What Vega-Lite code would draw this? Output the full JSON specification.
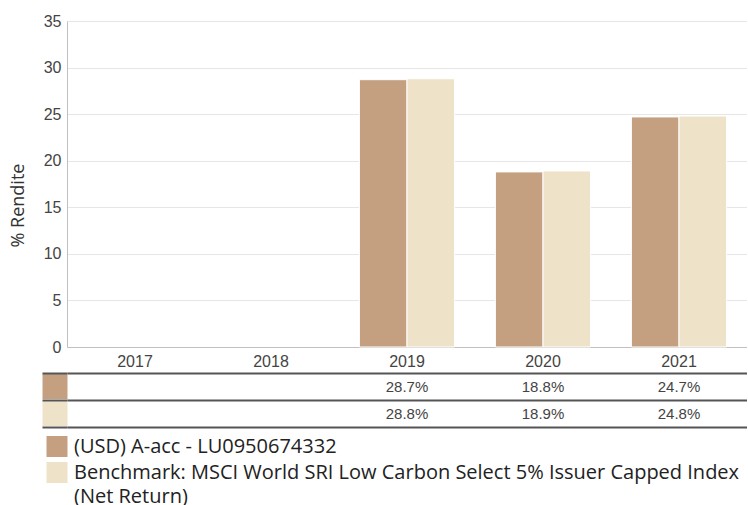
{
  "$schema": "https://vega.github.io/schema/vega-lite/v6.json",
  "background": "white",
  "padding": {"left": 9, "top": 13, "right": 0, "bottom": 12},
  "config": {"view": {"stroke": null}},
  "datasets": {
    "perf": [
      {"year": "2019", "series": "fund", "value": 28.7},
      {"year": "2019", "series": "bench", "value": 28.8},
      {"year": "2020", "series": "fund", "value": 18.8},
      {"year": "2020", "series": "bench", "value": 18.9},
      {"year": "2021", "series": "fund", "value": 24.7},
      {"year": "2021", "series": "bench", "value": 24.8}
    ],
    "legend": [
      {"series": "fund", "label": ["(USD) A-acc - LU0950674332"]},
      {"series": "bench", "label": ["Benchmark: MSCI World SRI Low Carbon Select 5% Issuer Capped Index", "(Net Return)"]}
    ]
  },
  "bounds": "flush",
  "spacing": 26,
  "vconcat": [
    {
      "width": 680,
      "height": 326,
      "data": {"name": "perf"},
      "mark": {"type": "bar", "stroke": "white", "strokeWidth": 1},
      "encoding": {
        "x": {
          "field": "year", "type": "ordinal",
          "scale": {"domain": ["2017", "2018", "2019", "2020", "2021"], "paddingInner": 0.3, "paddingOuter": 0.15},
          "axis": {"title": null, "labelAngle": 0, "labelFont": "Liberation Sans", "labelFontSize": 16, "labelColor": "#444", "ticks": false, "domainColor": "#c0c0c0", "labelPadding": 6}
        },
        "xOffset": {
          "field": "series", "type": "nominal",
          "scale": {"domain": ["fund", "bench"], "paddingInner": 0, "paddingOuter": 0}
        },
        "y": {
          "field": "value", "type": "quantitative",
          "scale": {"domain": [0, 35], "nice": false},
          "axis": {
            "values": [0, 5, 10, 15, 20, 25, 30, 35],
            "title": "% Rendite", "titleFont": "Open Sans", "titleFontSize": 18, "titleFontWeight": "normal", "titleColor": "#333",
            "titlePadding": 16, "titleY": 184,
            "labelFont": "Liberation Sans", "labelFontSize": 16, "labelColor": "#444", "labelPadding": 6,
            "ticks": false, "domainColor": "#c0c0c0", "gridColor": "#e6e6e6"
          }
        },
        "color": {
          "field": "series", "type": "nominal",
          "scale": {"domain": ["fund", "bench"], "range": ["#c4a081", "#eee3c9"]},
          "legend": null
        }
      }
    },
    {
      "bounds": "flush",
      "spacing": 6,
      "vconcat": [
        {
          "width": 680,
          "height": 54,
          "data": {"name": "perf"},
          "resolve": {"axis": {"y": "independent"}},
          "layer": [
            {
              "transform": [{"calculate": "format(datum.value, '.1f') + '%'", "as": "label"}],
              "mark": {"type": "text", "font": "Liberation Sans", "fontSize": 15, "color": "#444"},
              "encoding": {
                "x": {"field": "year", "type": "ordinal", "scale": {"domain": ["2017", "2018", "2019", "2020", "2021"], "paddingInner": 0, "paddingOuter": 0}, "axis": null},
                "y": {
                  "field": "series", "type": "nominal",
                  "scale": {"domain": ["fund", "bench"], "paddingInner": 0, "paddingOuter": 0},
                  "axis": {
                    "orient": "left", "title": null, "labels": false, "domain": false, "grid": false,
                    "tickBand": "center", "tickSize": 25, "tickWidth": 25,
                    "tickColor": {"condition": {"test": "datum.value === 'fund'", "value": "#c4a081"}, "value": "#eee3c9"}
                  }
                },
                "text": {"field": "label", "type": "nominal"}
              }
            },
            {
              "mark": {"type": "rule", "strokeOpacity": 0},
              "encoding": {
                "y": {
                  "field": "series", "type": "nominal",
                  "scale": {"domain": ["fund", "bench"], "paddingInner": 0, "paddingOuter": 0},
                  "axis": {
                    "orient": "left", "title": null, "labels": false, "domain": false,
                    "grid": true, "gridColor": "#555", "gridWidth": 2,
                    "tickBand": "extent", "tickSize": 25, "tickWidth": 2, "tickColor": "#555"
                  }
                }
              }
            }
          ]
        },
        {
          "width": 680,
          "height": 52,
          "data": {"name": "legend"},
          "mark": {"type": "text", "font": "Open Sans", "fontSize": 20, "color": "#222", "align": "left", "baseline": "alphabetic", "dx": 7, "dy": 7, "lineHeight": 24},
          "encoding": {
            "x": {"datum": 0, "type": "quantitative", "scale": {"domain": [0, 1]}, "axis": null},
            "y": {
              "field": "series", "type": "nominal",
              "scale": {"domain": ["fund", "bench"], "paddingInner": 0, "paddingOuter": 0},
              "axis": {
                "orient": "left", "title": null, "labels": false, "domain": false, "grid": false,
                "tickBand": "center", "tickSize": 21, "tickWidth": 21,
                "tickColor": {"condition": {"test": "datum.value === 'fund'", "value": "#c4a081"}, "value": "#eee3c9"}
              }
            },
            "text": {"field": "label"}
          }
        }
      ]
    }
  ]
}
